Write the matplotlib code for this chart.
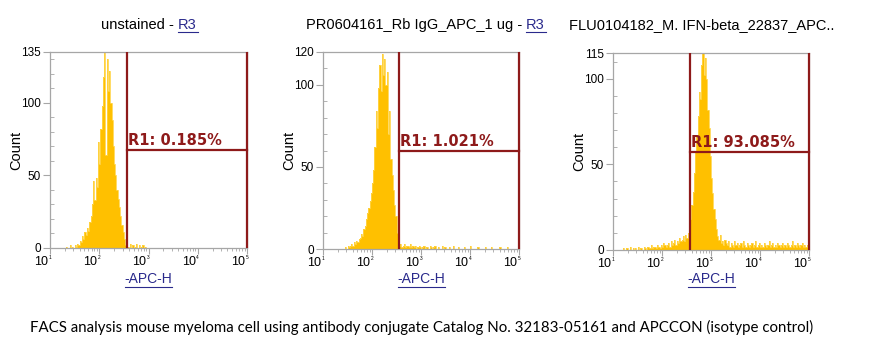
import numpy as np
import matplotlib
matplotlib.use("Agg")
import matplotlib.pyplot as plt
from matplotlib.lines import Line2D
from matplotlib.ticker import FixedLocator, NullFormatter

# ---------------- data ----------------
titles_black = ["unstained - ", "PR0604161_Rb IgG_APC_1 ug - ", "FLU0104182_M. IFN-beta_22837_APC.."]
titles_link = ["R3", "R3", ""]
x_label = "-APC-H"
y_label = "Count"
gate_texts = ["R1: 0.185%", "R1: 1.021%", "R1: 93.085%"]
y_max = [135, 120, 115]
y_major = [[0, 50, 100, 135], [0, 50, 100, 120], [0, 50, 100, 115]]
gate_low = [363, 355, 372]
gate_high = [1e5, 1e5, 1e5]
gate_level = [67.5, 60, 57.4]
caption = "FACS analysis mouse myeloma cell using antibody conjugate Catalog No. 32183-05161 and APCCON (isotype control)"

bin_width_log = 0.025
start_log = [1.30, 1.45, 1.20]

counts_unstained = [0, 1, 0, 0, 2, 0, 1, 0, 2, 1, 3, 2, 5, 4, 8, 6, 11, 9, 14, 12,
                    18, 22, 30, 46, 33, 48, 42, 73, 58, 82, 98, 118, 135, 64, 130, 108, 122, 100, 88, 70,
                    58, 50, 40, 34, 28, 22, 16, 11, 6, 2, 0, 1, 0, 3, 0, 2, 0, 1, 3, 0,
                    2, 0, 1, 2, 0, 1]
counts_isotype = [1, 0, 2, 1, 2, 3, 2, 4, 3, 5, 4, 6, 7, 9, 8, 12, 14, 18, 22, 25,
                  29, 34, 40, 48, 62, 84, 74, 98, 112, 96, 119, 106, 116, 100, 108, 70, 84, 55, 45, 36,
                  27, 20, 10, 5, 2, 3, 1, 2, 3, 1, 2, 2, 1, 3, 1, 2, 1, 2, 0, 1,
                  2, 1, 0, 1, 2, 0, 1, 1, 0, 2, 1, 0, 1, 2, 0, 0, 1, 0, 0, 2,
                  0, 1, 0, 0, 0, 1, 0, 0, 2, 0, 0, 0, 1, 0, 0, 0, 0, 1, 0, 0,
                  0, 0, 2, 0, 0, 0, 0, 0, 1, 0, 0, 0, 0, 0, 1, 0, 0, 0, 0, 1,
                  0, 0, 0, 0, 0, 0, 1, 0, 0, 0, 0, 0, 1, 0, 0, 0, 0, 0]
counts_ifnb = [1, 0, 0, 1, 0, 0, 2, 0, 1, 0, 1, 0,
               2, 0, 1, 1, 0, 2, 1, 0, 2, 1, 1, 3,
               1, 2, 2, 1, 3, 2, 1, 3, 2, 4, 3, 2,
               3, 4, 2, 5, 3, 4, 6, 3, 5, 4, 7, 5,
               6, 8, 5, 9, 7, 10,
               12, 18, 26, 34, 45, 57,
               66, 78, 92, 88, 108, 115,
               102, 112, 100, 82, 71, 55,
               42, 33, 24, 18, 12, 8,
               6, 9, 4, 5, 3, 6,
               4, 3, 5, 2, 4, 3, 2, 5, 3, 4, 2, 3, 4, 2, 5, 3, 2, 4, 3, 2,
               3, 4, 2, 3, 5, 2, 3, 4, 2, 3, 2, 4, 3, 2, 3, 5, 2, 3, 4, 2,
               3, 2, 4, 3, 2, 3, 4, 2, 3, 2, 4, 3, 2, 3, 5, 2, 3, 2, 4, 3,
               2, 3, 4, 2, 3, 2, 3, 4, 2]
all_counts = [counts_unstained, counts_isotype, counts_ifnb]

# ---------------- style ----------------
FILL = "#FFC000"
EDGE = "#FFD54A"
GATE = "#8E1A1A"
GRAY = "#A6A6A6"
LINK = "#2A2A8C"
FONT = "Liberation Sans"

W, H = 893, 359
fig = plt.figure(figsize=(W / 100, H / 100), dpi=100)
fig.patch.set_facecolor("white")

# axes boxes in pixels (left, top, right, bottom)
boxes = [(50, 52, 247, 248), (323, 52, 519, 249), (613, 53, 809, 250)]
title_split = [178, 526, None]
title_left3 = 569
count_x = [16, 289, 579]

def px(x, y):
    return x / W, 1 - y / H

minor_x = [m * 10 ** d for d in range(1, 5) for m in range(2, 10)]

for k in range(3):
    l, t, r, b = boxes[k]
    ax = fig.add_axes([l / W, 1 - b / H, (r - l) / W, (b - t) / H])
    counts = np.array(all_counts[k], dtype=float)
    edges_log = start_log[k] + bin_width_log * np.arange(len(counts) + 1)
    edges = 10 ** edges_log
    ax.stairs(counts, edges, fill=True, color=FILL, zorder=2)
    ax.stairs(counts, edges, fill=False, color=EDGE, lw=0.6, zorder=2.5)

    ax.set_xscale("log")
    ax.set_xlim(10, 1e5)
    ax.set_ylim(0, y_max[k])

    for s in ax.spines.values():
        s.set_color(GRAY)
        s.set_linewidth(0.9)

    # gate
    gl, gh, gy = gate_low[k], gate_high[k], gate_level[k]
    ax.plot([gl, gl], [0, y_max[k]], color=GATE, lw=1.6, zorder=4, clip_on=False, solid_capstyle="butt")
    ax.plot([gh, gh], [0, y_max[k]], color=GATE, lw=1.6, zorder=4, clip_on=False, solid_capstyle="butt")
    ax.plot([gl, gh], [gy, gy], color=GATE, lw=1.6, zorder=4, clip_on=False)
    ax.text(gl * 1.07, gy + 1.2 * y_max[k] / 135, gate_texts[k], color=GATE, fontsize=10.5,
            family="DejaVu Sans", fontweight="bold", ha="left", va="bottom", zorder=5)

    # y ticks
    ax.yaxis.set_major_locator(FixedLocator(y_major[k]))
    ax.yaxis.set_minor_locator(FixedLocator(list(range(10, y_max[k], 10))))
    ax.tick_params(axis="y", which="major", direction="out", length=5, color=GRAY,
                   labelsize=8.5, pad=1.5)
    ax.tick_params(axis="y", which="minor", direction="in", length=3, color=GRAY)
    for lab in ax.get_yticklabels():
        lab.set_family(FONT)

    # x ticks
    ax.xaxis.set_major_locator(FixedLocator([10, 100, 1000, 1e4, 1e5]))
    ax.xaxis.set_minor_locator(FixedLocator(minor_x))
    ax.xaxis.set_major_formatter(NullFormatter())
    ax.xaxis.set_minor_formatter(NullFormatter())
    ax.tick_params(axis="x", which="major", direction="out", length=4, color=GRAY)
    ax.tick_params(axis="x", which="minor", direction="out", length=2.5, color=GRAY)
    for d in range(1, 6):
        ax.annotate("10", xy=(10 ** d, 0), xycoords="data", xytext=(-1.5, -6),
                    textcoords="offset points", ha="right", va="top", fontsize=9,
                    family=FONT, annotation_clip=False)
        ax.annotate(str(d), xy=(10 ** d, 0), xycoords="data", xytext=(-1, -5),
                    textcoords="offset points", ha="left", va="top", fontsize=3.5,
                    family=FONT, annotation_clip=False)

    # y label
    fx, fy = px(count_x[k], (t + b) / 2)
    fig.text(fx, fy, y_label, rotation=90, ha="center", va="center", fontsize=10.5, family=FONT)

    # x label with underline
    cx = (l + r) / 2
    fx, fy = px(cx, 279)
    fig.text(fx, fy, x_label, ha="center", va="center", fontsize=10, family=FONT, color=LINK)
    fig.add_artist(Line2D([(cx - 23.5) / W, (cx + 23.5) / W], [1 - 286.5 / H] * 2, color=LINK, lw=0.8))

    # titles
    if title_split[k] is not None:
        sx = title_split[k]
        fx, fy = px(sx, 25)
        fig.text(fx, fy, titles_black[k], ha="right", va="center", fontsize=10.5, family=FONT)
        fig.text(fx, fy, titles_link[k], ha="left", va="center", fontsize=10.5, family=FONT, color=LINK)
        fig.add_artist(Line2D([(sx) / W, (sx + 20) / W], [1 - 32 / H] * 2, color=LINK, lw=0.8))
    else:
        fx, fy = px(title_left3, 25)
        fig.text(fx, fy, titles_black[k], ha="left", va="center", fontsize=10.5, family=FONT)

fx, fy = px(30, 327)
fig.text(fx, fy, caption, ha="left", va="center", fontsize=10.8, family="Lato")

fig.savefig("out.png", dpi=100, facecolor="white")
